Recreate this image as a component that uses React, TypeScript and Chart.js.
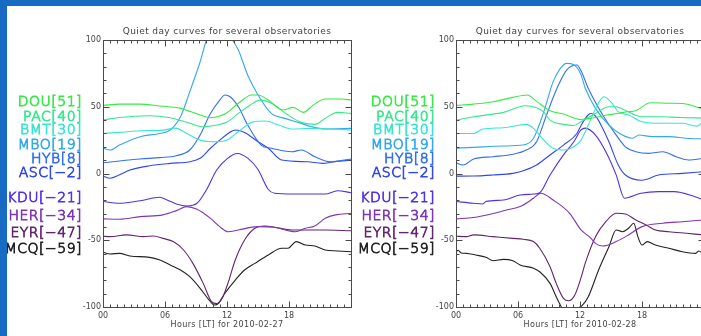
import React, { useEffect, useRef } from "react";
import { Chart, registerables } from "chart.js";

Chart.register(...registerables);

// Station codes, their daily mean offsets [nT] and drawing colours
const STATIONS = ["DOU", "PAC", "BMT", "MBO", "HYB", "ASC", "KDU", "HER", "EYR", "MCQ"];
const OFFSETS = [51, 40, 30, 19, 8, -2, -21, -34, -47, -59];
const COLORS = [
  "#35ea45", "#34e88c", "#36e6d2", "#33a8ec", "#3470ee",
  "#3048ec", "#5230e8", "#7e34b8", "#62246e", "#222222",
];

const HOUR_TICKS = [0, 6, 12, 18];
const VALUE_TICKS = [100, 50, 0, -50, -100];
const TITLE = "Quiet day curves for several observatories";
const BLUE = "#176bc3";

type Pt = [number, number];

// 2010-02-27 : [hour LT, nT]
const dou27: Pt[] = [[0,51],[1.6,52],[3.6,52],[5.5,50.6],[7.5,48.8],[9.4,43.8],[10.4,41.8],[11.3,43],[12,45.5],[13.1,52.6],[14.4,58.8],[15,58.8],[16,55],[17.4,47.6],[18.4,49.5],[19.4,45.8],[20.3,51],[21.5,55.8],[23.1,55.8],[24,55]];
const pac27: Pt[] = [[0,40],[1.6,42],[4.5,43.3],[6.5,41.8],[8.4,37.6],[9.7,35],[11,36.3],[12,38.5],[13.1,45],[14.2,51],[15.2,55],[16.3,52.6],[17.9,43.8],[19.2,38.3],[20.5,36.8],[21.5,41.3],[22.7,45.8],[24,45]];
const bmt27: Pt[] = [[0,30],[1.6,30.8],[3.6,32],[5.8,32.5],[7,34],[8.1,30],[9.4,25],[10.6,23.8],[11.8,24.5],[13.1,31.3],[14.4,38.3],[15.7,39.3],[17,36.3],[18.3,33.3],[20.2,33.8],[22.1,33.3],[24,32.6]];
const mbo27: Pt[] = [[0,19],[0.7,17.6],[1.6,21.3],[3.6,27.6],[5.5,30],[6.5,32.6],[7.5,42.5],[8.4,61.3],[9.4,83.7],[10,100],[10.6,113],[11.2,117],[11.8,111],[12.3,103],[13.1,92.5],[14,73.8],[15,58.8],[16.3,45],[17.6,41.3],[18.9,38.3],[20.2,35],[21.5,33.3],[24,33.8]];
const hyb27: Pt[] = [[0,8],[1.6,9.4],[3.6,10.9],[5.5,11.9],[7.1,13.3],[8.4,17.6],[9.4,28.8],[10.4,45],[11.3,55],[11.8,58.8],[12.3,57.5],[13.1,50],[14,36.3],[15.3,21.3],[16.3,18.9],[18.3,16.3],[19.2,17.6],[20.5,12.6],[22,8.8],[24,10.9]];
const asc27: Pt[] = [[0,-2],[0.7,-3.6],[1.6,-1],[2.6,2.6],[4.5,5.8],[6.5,7.6],[8.4,8.8],[9.4,11.4],[10.4,18.9],[11.3,25],[12.1,30],[12.8,32.6],[13.7,30.8],[15,23.8],[16,18.9],[17.3,10.1],[19.8,8.8],[21.2,7.6],[22.4,8.8],[24,10]];
const kdu27: Pt[] = [[0,-21],[1.6,-22.3],[3.6,-20.4],[5.5,-17.8],[6.2,-19.8],[7.1,-22.8],[8.1,-24.3],[9.1,-22.3],[10,-12.4],[11,2.6],[12,11],[13,15],[14,11.5],[15,3],[16,-12],[16.6,-14.8],[18.3,-15.4],[21.5,-15.4],[22.7,-12.9],[24,-14.4]];
const her27: Pt[] = [[0,-34],[1.6,-34.3],[3.6,-32.3],[5.8,-31],[7.1,-27.8],[8.1,-24.8],[9.1,-26.8],[10.4,-33.6],[11.3,-39.8],[12.1,-43.6],[13.1,-42.3],[15,-39.8],[16.6,-40.3],[18.6,-43.6],[19.6,-41],[20.5,-39.3],[21.5,-33.6],[22.5,-31],[24,-29.8]];
const eyr27: Pt[] = [[0,-47],[0.7,-47.3],[2.3,-46],[3.9,-47.3],[4.9,-46.8],[5.8,-48.6],[6.8,-51],[7.8,-57.3],[8.7,-67.3],[9.7,-82.3],[10.5,-96],[11,-97.5],[11.6,-92.3],[12.1,-82],[12.8,-64.8],[13.7,-49.8],[14.7,-41],[15.7,-39.3],[16.6,-40.3],[18.3,-42.3],[21.5,-42.3],[24,-42.9]];
const mcq27: Pt[] = [[0,-59],[0.7,-60.3],[1.6,-59.8],[2.6,-61.8],[4.5,-62.8],[5.5,-64.8],[6.5,-68.5],[7.5,-72.3],[8.4,-77.3],[9.4,-86],[10.4,-96],[10.8,-98.5],[11.2,-97],[11.8,-89.7],[12.8,-79.8],[13.7,-72.3],[14.7,-67.3],[16,-61],[17.3,-56],[17.9,-56],[18.7,-51],[19.6,-53.6],[20.5,-54.3],[21.5,-57.3],[22.7,-58],[24,-58.6]];

// 2010-02-28 : [hour LT, nT]
const dou28: Pt[] = [[0,51],[1.7,52],[3.6,53.8],[5.5,57],[6.9,58.8],[7.8,54],[9.1,47],[10.4,44.5],[12.1,40.5],[13.5,42],[14.6,43.8],[15.7,45],[16.6,46.3],[17.4,47],[18.8,53],[20.6,52.6],[22.1,52.3],[23,50.5],[24,48]];
const pac28: Pt[] = [[0,40],[1.7,42.5],[4.6,45.8],[6.7,50.8],[7.8,49.3],[8.5,46],[9.1,40],[10.4,36.8],[11.4,36],[12.1,38.8],[13.5,45],[14.8,50],[15.5,50],[16.2,48],[18,42.5],[19.8,42.5],[21.5,42],[24,41.5]];
const bmt28: Pt[] = [[0,30],[1.7,30],[2.6,33.3],[4.6,34.3],[6.2,36.3],[6.8,36.8],[7.5,33.8],[8.5,25],[9.4,18.9],[10.4,17.6],[11.4,20],[12.1,25],[12.8,36.3],[13.6,50],[14.3,57.5],[15.1,52.6],[15.7,46.3],[16.7,43.8],[18,38.8],[20,37.6],[21.9,37.6],[23.3,35.5],[24,40]];
const mbo28: Pt[] = [[0,19],[1.7,19.6],[4.6,20.6],[6.5,21.3],[7.5,26.4],[8.5,46.3],[9.4,68.8],[10.1,78.8],[10.7,82.5],[11.4,81.5],[12.1,74],[12.5,64],[13.5,48.8],[14.8,36.3],[16.1,28.8],[17.1,26.4],[17.7,28.8],[19,27.6],[20.6,27.6],[22.3,26.4],[24,25.8]];
const hyb28: Pt[] = [[0,8],[0.7,6.4],[1.7,10.9],[3.6,12.6],[5.5,14.4],[6.8,17.6],[7.8,23.8],[8.7,42.5],[9.7,62.5],[10.7,77.5],[11.7,81.3],[12.1,77],[12.8,63.8],[14.2,43.8],[15.5,28.8],[16.4,20],[17.4,16.3],[18.7,15.1],[20,16.3],[21.3,12.6],[22.5,10.1],[24,11.4]];
const asc28: Pt[] = [[0,-2],[1.7,-1.9],[3.6,-1.1],[5.5,0.1],[6.5,2],[7.8,6.4],[9.1,13.9],[10.4,21.3],[11.7,30],[12.1,36],[12.8,44],[13.1,45],[13.6,42],[14.2,33.8],[14.8,23.8],[15.7,6.4],[16.4,-1.1],[18,-5],[19.6,-1.1],[21.9,0.1],[24,1.3]];
const kdu28: Pt[] = [[0,-21],[1.7,-22.3],[2.6,-22.8],[2.9,-21],[4.6,-19.8],[6.2,-16.1],[7.5,-15.4],[8.1,-14.4],[9.1,-1.1],[10.4,13.9],[11.4,23.8],[12.1,32.6],[12.5,34],[13.5,28.8],[14.5,16.3],[15.5,-1],[16.3,-18.5],[17.9,-14.8],[19.6,-13.6],[21.1,-13.6],[23,-17],[24,-20]];
const her28: Pt[] = [[0,-34],[1.7,-33],[3.6,-30],[4.9,-27.3],[6.2,-24.8],[7.5,-18.6],[8.2,-14.8],[9.4,-19.8],[11,-29.8],[12.1,-42.3],[13,-48],[13.5,-52.3],[14.2,-54.3],[15.5,-51],[16.7,-46],[18,-39.8],[20,-37.3],[21.9,-36.1],[24,-34.8]];
const eyr28: Pt[] = [[0,-47],[1,-47.3],[1.7,-46],[3.6,-47.3],[5.5,-48.6],[6.5,-49.3],[7.5,-51],[8.1,-56],[9.1,-69.8],[9.7,-82.3],[10.4,-93.5],[10.9,-95.3],[11.5,-91],[12.1,-78],[12.5,-67.3],[13.5,-47.3],[14.5,-36.1],[15.5,-29.8],[16.4,-30.3],[17.4,-34.8],[18.4,-38.6],[19.3,-42.3],[20.6,-43.6],[22.3,-44.8],[24,-46]];
const mcq28: Pt[] = [[0,-59],[0.2,-57.5],[0.5,-59.5],[1,-59.8],[1.9,-61],[2.9,-62.8],[3.6,-65.3],[4.6,-64.3],[5.5,-65.3],[6.2,-68.5],[7.5,-71],[8.1,-73.6],[9.1,-82.3],[9.7,-92.3],[10.2,-100],[10.8,-106],[11.3,-106],[11.8,-101],[12.2,-99],[12.8,-92.3],[13.8,-72.3],[14.8,-54.8],[15.5,-42.3],[16.1,-43.6],[16.7,-41],[17.2,-37.3],[17.6,-47.3],[18,-53.6],[18.5,-51],[19.3,-53.6],[20.6,-56],[21.9,-58.6],[23.2,-59.8],[23.5,-58],[24,-61]];

const DAY27 = [dou27, pac27, bmt27, mbo27, hyb27, asc27, kdu27, her27, eyr27, mcq27];
const DAY28 = [dou28, pac28, bmt28, mbo28, hyb28, asc28, kdu28, her28, eyr28, mcq28];

const AXIS = "#4a4a4a";
const TEXT = "#444444";

// Box frame with inward ticks on all four sides, titles and station labels
const idlFrame = {
  id: "idlFrame",
  afterDatasetsDraw(chart: any, _args: any, opts: any) {
    const { ctx, chartArea: a, scales } = chart;
    const x = scales.x;
    const y = scales.y;
    const L = Math.round(a.left) + 0.5;
    const R = Math.round(a.right) + 0.5;
    const T = Math.round(a.top) + 0.5;
    const B = Math.round(a.bottom) + 0.5;
    ctx.save();
    ctx.strokeStyle = AXIS;
    ctx.lineWidth = 1;
    ctx.strokeRect(L, T, R - L, B - T);
    ctx.beginPath();
    for (let k = 0; k <= 36; k++) {
      const px = Math.round(x.getPixelForValue((k * 24) / 36)) + 0.5;
      const len = k % 9 === 0 ? 6 : 3;
      ctx.moveTo(px, B); ctx.lineTo(px, B - len);
      ctx.moveTo(px, T); ctx.lineTo(px, T + len);
    }
    for (let v = -100; v <= 100; v += 10) {
      const py = Math.round(y.getPixelForValue(v)) + 0.5;
      const len = v % 50 === 0 ? 6 : 3;
      ctx.moveTo(L, py); ctx.lineTo(L + len, py);
      ctx.moveTo(R, py); ctx.lineTo(R - len, py);
    }
    ctx.stroke();

    const cx = (a.left + a.right) / 2;
    ctx.fillStyle = TEXT;
    ctx.textAlign = "center";
    ctx.textBaseline = "middle";
    (ctx as any).letterSpacing = "0.4px";
    ctx.font = '9px "DejaVu Sans", sans-serif';
    ctx.fillText(TITLE, cx, a.top - 8);
    ctx.font = '8px "DejaVu Sans", sans-serif';
    ctx.fillText(`Hours [LT] for ${opts.date}`, cx, a.bottom + 18);

    ctx.font = '200 14px "DejaVu Sans", sans-serif';
    ctx.textAlign = "right";
    (ctx as any).letterSpacing = "0.5px";
    ctx.lineWidth = 0.8;
    STATIONS.forEach((name, i) => {
      const label = `${name}[${String(OFFSETS[i]).replace("-", "\u2212")}]`;
      const py = y.getPixelForValue(OFFSETS[i]) - 3;
      ctx.fillStyle = COLORS[i];
      ctx.strokeStyle = COLORS[i];
      ctx.fillText(label, a.left - 21, py);
      ctx.strokeText(label, a.left - 21, py);
    });
    ctx.restore();
  },
};

function Panel({ left, width, plotLeft, plotRight, series, date }: {
  left: number; width: number; plotLeft: number; plotRight: number; series: Pt[][]; date: string;
}) {
  const ref = useRef<HTMLCanvasElement>(null);
  useEffect(() => {
    const yAxisWidth = 30;
    const xAxisHeight = 29;
    const chart = new Chart(ref.current!, {
      type: "line",
      data: {
        datasets: series.map((pts, i) => ({
          label: STATIONS[i],
          data: pts.map(([h, v]) => ({ x: h, y: v })),
          borderColor: COLORS[i],
          borderWidth: 1.1,
          pointRadius: 0,
          fill: false,
          cubicInterpolationMode: "monotone" as const,
        })),
      },
      options: {
        animation: false,
        responsive: false,
        devicePixelRatio: 1,
        events: [],
        layout: {
          padding: { left: plotLeft - yAxisWidth, right: width - plotRight, top: 40, bottom: 0 },
        },
        plugins: {
          legend: { display: false },
          tooltip: { enabled: false },
          title: { display: false },
          idlFrame: { date },
        } as any,
        scales: {
          x: {
            type: "linear",
            min: 0,
            max: 24,
            afterBuildTicks: (s: any) => { s.ticks = HOUR_TICKS.map((v) => ({ value: v })); },
            afterFit: (s: any) => { s.height = xAxisHeight; },
            ticks: {
              autoSkip: false,
              maxRotation: 0,
              padding: 4,
              color: TEXT,
              font: { family: '"DejaVu Sans", sans-serif', size: 8 },
              callback: (v: any) => String(v).padStart(2, "0"),
            },
            grid: { display: false, drawTicks: false },
            border: { display: false },
          },
          y: {
            type: "linear",
            min: -100,
            max: 100,
            afterBuildTicks: (s: any) => { s.ticks = VALUE_TICKS.map((v) => ({ value: v })); },
            afterFit: (s: any) => { s.width = yAxisWidth; },
            ticks: {
              padding: 2,
              color: TEXT,
              font: { family: '"DejaVu Sans", sans-serif', size: 8 },
            },
            grid: { display: false, drawTicks: false },
            border: { display: false },
          },
        },
      },
      plugins: [idlFrame],
    });
    return () => chart.destroy();
  }, []);
  return (
    <canvas
      ref={ref}
      width={width}
      height={336}
      style={{ position: "absolute", left, top: 0, width, height: 336 }}
    />
  );
}

export default function App() {
  return (
    <div style={{ position: "fixed", left: 0, top: 0, width: 701, height: 336, overflow: "hidden", background: "#fff" }}>
      <Panel left={0} width={360} plotLeft={103} plotRight={351} series={DAY27} date="2010-02-27" />
      <Panel left={354} width={366} plotLeft={102} plotRight={350} series={DAY28} date="2010-02-28" />
      <div style={{ position: "absolute", left: 0, top: 0, width: 701, height: 6, background: BLUE }} />
      <div style={{ position: "absolute", left: 0, top: 0, width: 7, height: 336, background: BLUE }} />
    </div>
  );
}
